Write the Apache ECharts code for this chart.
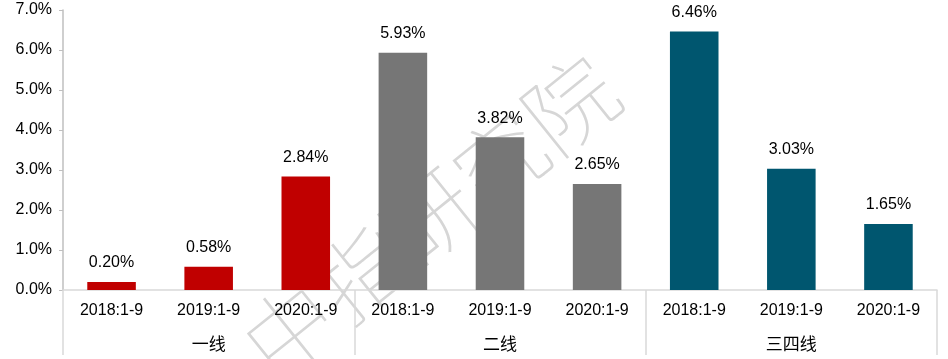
<!DOCTYPE html>
<html>
<head>
<meta charset="utf-8">
<script src="https://cdn.jsdelivr.net/npm/echarts@6/dist/echarts.min.js"></script>
<style>
html,body{margin:0;padding:0;background:#fff;}
#chart{width:948px;height:359px;}
</style>
</head>
<body>
<div id="chart"></div>
<script>
const periods = ['2018:1-9','2019:1-9','2020:1-9','2018:1-9','2019:1-9','2020:1-9','2018:1-9','2019:1-9','2020:1-9'];
const groups = ['一线','二线','三四线'];
const values = [0.20, 0.58, 2.84, 5.93, 3.82, 2.65, 6.46, 3.03, 1.65];
const groupColors = ['#C00000','#767676','#00566F'];
const yTicks = [0,1,2,3,4,5,6,7];

const chart = echarts.init(document.getElementById('chart'));
const barData = values.map((v,i)=>({value:v,itemStyle:{color:groupColors[Math.floor(i/3)]}}));

chart.setOption({
  animation:false,
  backgroundColor:'#fff',
  grid:{left:63,right:11,top:10,bottom:69,containLabel:false},
  graphic:[{
    type:'text',
    z:0,
    x:430, y:217,
    rotation:38.8*Math.PI/180,
    style:{
      text:'中指研究院',
      font:'100 90px "Noto Sans CJK SC"',
      fill:'#d6d6d6',
      align:'center',
      verticalAlign:'middle'
    }
  }],
  xAxis:[{
    type:'category',
    data:periods,
    position:'bottom',
    axisLine:{show:true,lineStyle:{color:'#d9d9d9',width:1.5}},
    axisTick:{show:false},
    axisLabel:{interval:0,margin:13,color:'#000',fontSize:16,fontFamily:'"Liberation Sans", Arial, sans-serif'}
  },{
    type:'category',
    data:groups,
    position:'bottom',
    axisLine:{show:false},
    axisTick:{show:true,length:65,interval:0,lineStyle:{color:'#d9d9d9',width:1.5}},
    axisLabel:{interval:0,margin:45,color:'#000',fontSize:17,fontFamily:'"Noto Sans CJK SC", sans-serif'}
  }],
  yAxis:{
    type:'value',
    min:yTicks[0],
    max:yTicks[yTicks.length-1],
    interval:1,
    splitLine:{show:false},
    axisLine:{show:true,lineStyle:{color:'#bfbfbf',width:1.5}},
    axisTick:{show:true,length:4,lineStyle:{color:'#bfbfbf'}},
    axisLabel:{margin:11,color:'#000',fontSize:16,fontFamily:'"Liberation Sans", Arial, sans-serif',
      formatter:v=>v.toFixed(1)+'%'}
  },
  series:[{
    type:'bar',
    xAxisIndex:0,
    z:2,
    data:barData,
    barWidth:'50%',
    label:{show:true,position:'top',distance:11,color:'#000',fontSize:16,
      fontFamily:'"Liberation Sans", Arial, sans-serif',
      formatter:p=>p.value.toFixed(2)+'%'}
  }]
});
</script>
</body>
</html>
